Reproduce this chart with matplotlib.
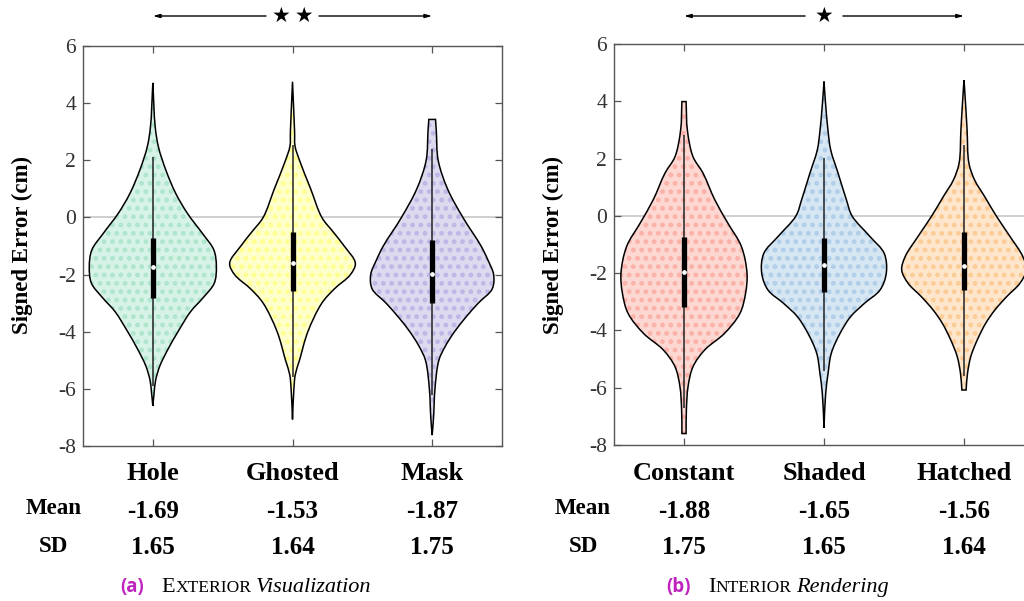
import math
import matplotlib
matplotlib.use("Agg")
import matplotlib.pyplot as plt
from matplotlib.path import Path
from matplotlib.patches import PathPatch
from matplotlib.transforms import blended_transform_factory

plt.rcParams["font.family"] = ["Liberation Serif", "DejaVu Serif"]
plt.rcParams["axes.unicode_minus"] = False
plt.rcParams["hatch.linewidth"] = 2.2

# ---- summary statistics shown under each panel ----
EXT_NAMES = ["Hole", "Ghosted", "Mask"]
EXT_MEAN = [-1.69, -1.53, -1.87]
EXT_SD = [1.65, 1.64, 1.75]
INT_NAMES = ["Constant", "Shaded", "Hatched"]
INT_MEAN = [-1.88, -1.65, -1.56]
INT_SD = [1.75, 1.65, 1.64]

# ---- box-plot statistics (cm) ----
EXT_Q1 = [-2.81, -2.56, -2.98]
EXT_MED = [-1.72, -1.58, -1.99]
EXT_Q3 = [-0.73, -0.50, -0.79]
EXT_WLO = [-5.9, -5.6, -6.2]
EXT_WHI = [2.12, 2.53, 2.38]
INT_Q1 = [-3.17, -2.67, -2.59]
INT_MED = [-1.95, -1.71, -1.74]
INT_Q3 = [-0.73, -0.78, -0.55]
INT_WLO = [-6.7, -5.4, -5.6]
INT_WHI = [2.83, 2.01, 2.48]

# ---- density profiles: error level (cm) and violin half-width ----
HOLE_Y = [4.71, 3.17, 2.47, 1.66, 0.84, 0.14, -0.56, -1.14, -1.72, -2.3, -2.81, -3.3, -4.0, -4.6, -5.2, -5.7, -6.1, -6.6]
HOLE_W = [0.0, 0.017, 0.04, 0.093, 0.164, 0.248, 0.355, 0.437, 0.455, 0.44, 0.36, 0.27, 0.18, 0.11, 0.05, 0.02, 0.01, 0.0]
GHOST_Y = [4.75, 3.0, 2.5, 2.0, 1.0, 0.0, -0.5, -1.0, -1.6, -2.0, -2.5, -3.0, -4.0, -5.0, -5.5, -6.0, -7.07]
GHOST_W = [0.0, 0.015, 0.018, 0.05, 0.13, 0.21, 0.29, 0.37, 0.45, 0.415, 0.30, 0.21, 0.11, 0.05, 0.02, 0.01, 0.0]
MASK_Y = [3.43, 3.0, 2.0, 1.0, 0.0, -1.0, -1.5, -2.0, -2.5, -3.0, -3.5, -4.0, -4.5, -5.0, -6.0, -7.0, -7.62]
MASK_W = [0.024, 0.03, 0.043, 0.11, 0.22, 0.35, 0.40, 0.44, 0.43, 0.33, 0.24, 0.16, 0.095, 0.048, 0.02, 0.01, 0.0]
CONST_Y = [3.99, 3.0, 2.07, 1.49, 0.56, -0.26, -1.07, -2.0, -2.7, -3.4, -4.1, -4.68, -5.27, -5.96, -6.78, -7.6]
CONST_W = [0.015, 0.024, 0.064, 0.136, 0.22, 0.314, 0.41, 0.45, 0.44, 0.40, 0.29, 0.148, 0.064, 0.029, 0.017, 0.015]
SHADED_Y = [4.69, 4.0, 3.0, 2.3, 1.5, 0.56, 0.0, -0.73, -1.31, -2.0, -2.59, -3.05, -3.52, -4.1, -4.8, -5.5, -6.2, -7.4]
SHADED_W = [0.0, 0.01, 0.028, 0.048, 0.1, 0.16, 0.2, 0.33, 0.43, 0.445, 0.40, 0.29, 0.19, 0.115, 0.052, 0.029, 0.012, 0.0]
HATCH_Y = [4.74, 4.0, 3.0, 1.84, 1.25, 0.67, 0.0, -0.73, -1.42, -1.89, -2.35, -2.82, -3.29, -3.75, -4.33, -4.92, -5.5, -6.08]
HATCH_W = [0.0, 0.01, 0.022, 0.035, 0.076, 0.148, 0.23, 0.33, 0.42, 0.445, 0.40, 0.305, 0.22, 0.155, 0.095, 0.048, 0.025, 0.015]

EXT_PROFILES = [(HOLE_Y, HOLE_W), (GHOST_Y, GHOST_W), (MASK_Y, MASK_W)]
INT_PROFILES = [(CONST_Y, CONST_W), (SHADED_Y, SHADED_W), (HATCH_Y, HATCH_W)]

EXT_FILL = ["#d7f2e6", "#ffffcc", "#dddaf0"]
EXT_DOTS = ["#aee6cb", "#ffff90", "#bfb6e6"]
INT_FILL = ["#fdd7d2", "#d7e6f3", "#fee6cd"]
INT_DOTS = ["#fbb0a8", "#b0cde9", "#fdcb94"]

W, H = 1024, 601
XS, YS = 140.0, 28.6  # pixels per data unit along x and y


def centripetal_segments(pts):
    """Bezier control points of a centripetal Catmull-Rom curve through pts."""
    sp = [(p[0] * XS, p[1] * YS) for p in pts]
    first = (2 * sp[0][0] - sp[1][0], 2 * sp[0][1] - sp[1][1])
    last = (2 * sp[-1][0] - sp[-2][0], 2 * sp[-1][1] - sp[-2][1])
    ext = [first] + sp + [last]
    segs = []
    for i in range(1, len(ext) - 2):
        p0, p1, p2, p3 = ext[i - 1], ext[i], ext[i + 1], ext[i + 2]
        d1 = max(math.dist(p0, p1), 1e-6) ** 0.5
        d2 = max(math.dist(p1, p2), 1e-6) ** 0.5
        d3 = max(math.dist(p2, p3), 1e-6) ** 0.5
        b1 = tuple((d1 * d1 * p2[k] - d2 * d2 * p0[k]
                    + (2 * d1 * d1 + 3 * d1 * d2 + d2 * d2) * p1[k])
                   / (3 * d1 * (d1 + d2)) for k in range(2))
        b2 = tuple((d3 * d3 * p1[k] - d2 * d2 * p3[k]
                    + (2 * d3 * d3 + 3 * d3 * d2 + d2 * d2) * p2[k])
                   / (3 * d3 * (d3 + d2)) for k in range(2))
        segs.append(((b1[0] / XS, b1[1] / YS), (b2[0] / XS, b2[1] / YS),
                     (p2[0] / XS, p2[1] / YS)))
    return segs


def violin_path(center, ys, ws):
    ys_b = list(reversed(ys))
    ws_b = list(reversed(ws))
    right = [(center + w, y) for y, w in zip(ys_b, ws_b)]
    left = [(center - w, y) for y, w in zip(ys, ws)]
    verts, codes = [right[0]], [Path.MOVETO]
    for c1, c2, p in centripetal_segments(right):
        verts += [c1, c2, p]
        codes += [Path.CURVE4] * 3
    verts.append(left[0])
    codes.append(Path.LINETO)
    for c1, c2, p in centripetal_segments(left):
        verts += [c1, c2, p]
        codes += [Path.CURVE4] * 3
    verts.append(right[0])
    codes.append(Path.CLOSEPOLY)
    return Path(verts, codes)


fig = plt.figure(figsize=(W / 100, H / 100), dpi=100)


def draw_panel(rect, names, means, sds, profiles, fills, dots,
               q1, med, q3, wlo, whi, stars, star_gap, label_x):
    ax = fig.add_axes(rect)
    ax.set_xlim(0.5, 3.5)
    ax.set_ylim(-8, 6)
    ax.set_yticks(range(-8, 7, 2))
    ax.set_xticks([1, 2, 3])
    ax.set_xticklabels([])
    ax.tick_params(direction="in", top=True, right=True, length=5, width=0.9,
                   color="#555555", labelcolor="#333333", labelsize=15.5, pad=5)
    for s in ax.spines.values():
        s.set_color("#555555")
        s.set_linewidth(1.0)
    ax.axhline(0, color="#cccccc", lw=1.3, zorder=1)

    for i, (ys, ws) in enumerate(profiles):
        c = i + 1
        path = violin_path(c, ys, ws)
        ax.add_patch(PathPatch(path, facecolor=fills[i], edgecolor=dots[i],
                               hatch="..", lw=0, zorder=2))
        ax.add_patch(PathPatch(path, facecolor="none", edgecolor="black",
                               lw=1.1, zorder=3))
        ax.plot([c, c], [wlo[i], whi[i]], color="#222222", lw=1.1, zorder=4,
                solid_capstyle="butt")
        ax.plot([c, c], [q1[i], q3[i]], color="black", lw=3.8, zorder=5,
                solid_capstyle="butt")
        ax.plot([c], [med[i]], marker="o", ms=2.4, mfc="white", mec="white",
                zorder=6)

    tr = blended_transform_factory(ax.transData, fig.transFigure)
    for i in range(3):
        ax.text(i + 1, 1 - 473 / H, names[i], transform=tr, ha="center",
                va="center", fontsize=19, fontweight="bold", color="black")
        ax.text(i + 1, 1 - 511 / H, "%.2f" % means[i], transform=tr,
                ha="center", va="center", fontsize=18, fontweight="bold")
        ax.text(i + 1, 1 - 547 / H, "%.2f" % sds[i], transform=tr,
                ha="center", va="center", fontsize=18, fontweight="bold")
    fig.text(label_x / W, 1 - 509 / H, "Mean", ha="center", va="center",
             fontsize=16.5, fontweight="bold")
    fig.text(label_x / W, 1 - 546 / H, "SD", ha="center", va="center",
             fontsize=16.5, fontweight="bold")

    # significance bracket above the plot
    ybr = 1 - 16 / H
    arrow = dict(arrowstyle="-|>,head_length=0.4,head_width=0.11",
                 color="black", lw=1.0, shrinkA=0, shrinkB=0)
    ax.annotate("", xy=(1, ybr), xytext=(2 - star_gap, ybr), xycoords=tr,
                textcoords=tr, arrowprops=arrow, annotation_clip=False)
    ax.annotate("", xy=(3, ybr), xytext=(2 + star_gap, ybr), xycoords=tr,
                textcoords=tr, arrowprops=arrow, annotation_clip=False)
    ax.text(2, ybr, stars, transform=tr, ha="center", va="center",
            fontsize=15, family=["DejaVu Sans"])
    return ax


ax_a = draw_panel([83 / W, 1 - 446 / H, 419 / W, 400 / H], EXT_NAMES,
                  EXT_MEAN, EXT_SD, EXT_PROFILES, EXT_FILL, EXT_DOTS,
                  EXT_Q1, EXT_MED, EXT_Q3, EXT_WLO, EXT_WHI,
                  "\u2605\u2009\u2605", 0.19, 54)
ax_b = draw_panel([614 / W, 1 - 445 / H, 420 / W, 401 / H], INT_NAMES,
                  INT_MEAN, INT_SD, INT_PROFILES, INT_FILL, INT_DOTS,
                  INT_Q1, INT_MED, INT_Q3, INT_WLO, INT_WHI,
                  "\u2605", 0.135, 583)

fig.text(22 / W, 1 - 245 / H, "Signed Error (cm)", rotation=90, ha="center",
         va="center", fontsize=16.5, fontweight="bold")
fig.text(553 / W, 1 - 245 / H, "Signed Error (cm)", rotation=90, ha="center",
         va="center", fontsize=16.5, fontweight="bold")

# sub-figure captions, laid out piece by piece
renderer = fig.canvas.get_renderer()


def caption(x0, tag, head, rest, word):
    base = 1 - 592 / H
    pieces = [
        (tag, dict(family=["Open Sans"], fontweight="bold", color="#bf22bf", fontsize=13.5), 18),
        (head, dict(fontsize=16), 0),
        (rest, dict(fontsize=12.6), 4),
        (word, dict(fontsize=16, style="italic"), 0),
    ]
    x = x0
    for txt, kw, gap in pieces:
        t = fig.text(x / W, base, txt, ha="left", va="baseline", **kw)
        bb = t.get_window_extent(renderer)
        x = bb.x1 + gap


caption(120, "(a)", "E", "XTERIOR", "Visualization")
caption(666, "(b)", "I", "NTERIOR", "Rendering")

fig.savefig("out.png", dpi=100)
